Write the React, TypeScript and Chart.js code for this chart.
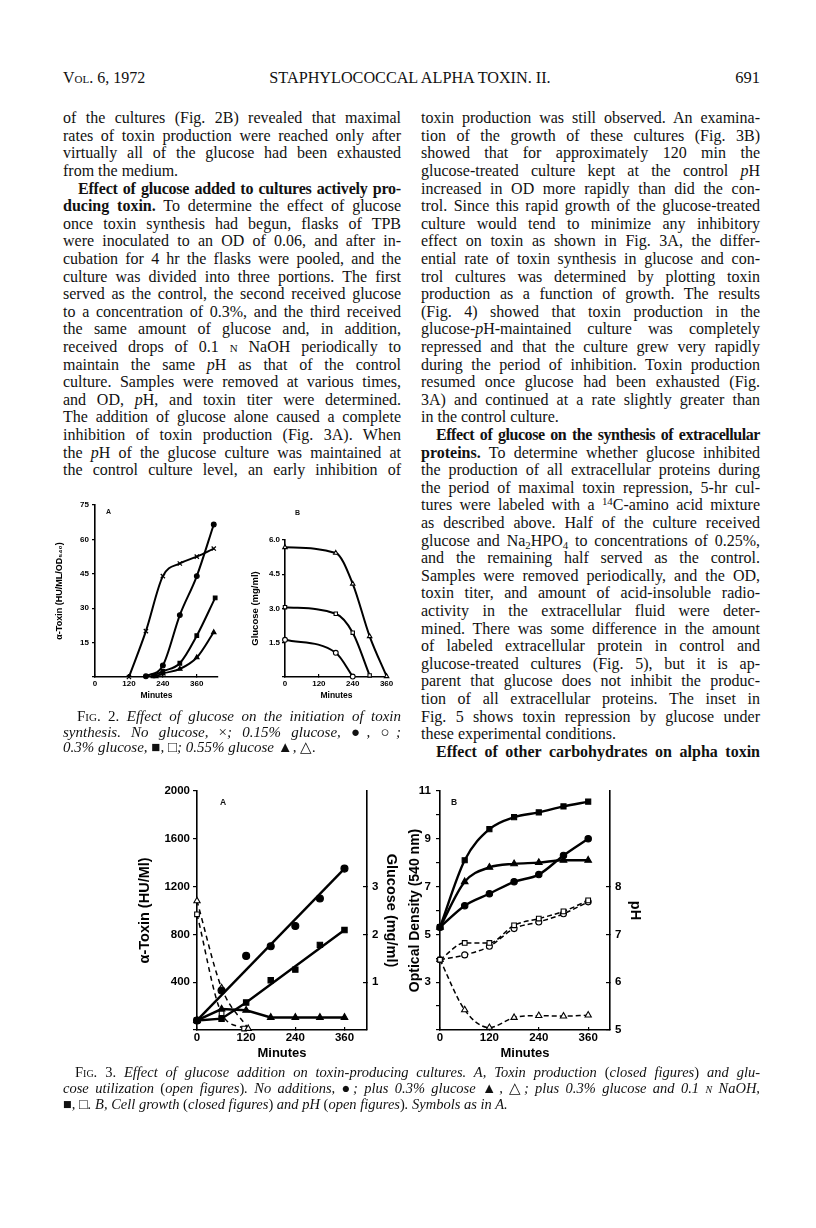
import React, { useEffect, useRef } from 'react';
import { Chart, registerables } from 'chart.js';

Chart.register(...registerables);

// ---------------- Fig. 2A : toxin (HU/ML/OD540) vs minutes ----------------
const fig2aNoGlucoseMin = [120, 180, 240, 300, 360, 420];
const fig2aNoGlucoseToxin = [0, 20, 44, 49.5, 52.5, 56];
const fig2aG015Min = [180, 240, 300, 360, 420];
const fig2aG015Toxin = [0.3, 5, 27, 44, 66.5];
const fig2aG03Min = [205, 240, 300, 360, 425];
const fig2aG03Toxin = [0.5, 2.5, 6, 18, 34.5];
const fig2aG055Min = [215, 240, 300, 360, 420];
const fig2aG055Toxin = [0.3, 1.5, 3.5, 8.5, 19.5];
const fig2aXTicks = [0, 120, 240, 360];
const fig2aYTicks = [0, 15, 30, 45, 60, 75];

// ---------------- Fig. 2B : glucose (mg/ml) vs minutes ----------------
const fig2bG055Min = [0, 180, 240, 300, 360];
const fig2bG055Glucose = [5.68, 5.43, 4.08, 1.78, 0.03];
const fig2bG03Min = [0, 180, 240, 300];
const fig2bG03Glucose = [3.06, 2.77, 1.94, 0.07];
const fig2bG015Min = [0, 180, 240];
const fig2bG015Glucose = [1.63, 1.06, 0.02];
const fig2bXTicks = [0, 120, 240, 360];
const fig2bYTicks = [0, 1.5, 3.0, 4.5, 6.0];

// ---------------- Fig. 3A : toxin (HU/ml) and glucose (mg/ml) ----------------
const fig3Minutes = [0, 60, 120, 180, 240, 300, 360];
const fig3aToxinNone = [80, 330, 620, 700, 870, 1100, 1350];
const fig3aToxinGlucose = [80, 175, 165, 105, 105, 105, 105];
const fig3aToxinNaOH = [80, 95, 230, 416, 505, 712, 836];
const fig3aGlcMinGlucose = [0, 60, 125];
const fig3aGlcGlucose = [2.7, 0.88, 0.03];
const fig3aGlcMinNaOH = [0, 60, 115];
const fig3aGlcNaOH = [2.42, 0.35, 0.03];
const fig3aXTicks = [0, 120, 240, 360];
const fig3aToxinTicks = [0, 400, 800, 1200, 1600, 2000];
const fig3aGlucoseTicks = [1, 2, 3];

// ---------------- Fig. 3B : optical density and pH ----------------
const fig3bOdNone = [5.3, 6.2, 6.7, 7.2, 7.5, 8.3, 9.0];
const fig3bOdGlucose = [5.3, 7.2, 7.8, 7.95, 8.0, 8.1, 8.1];
const fig3bOdNaOH = [5.3, 8.1, 9.4, 9.9, 10.1, 10.35, 10.55];
const fig3bPhNone = [6.47, 6.57, 6.75, 7.12, 7.26, 7.43, 7.68];
const fig3bPhGlucose = [6.47, 5.42, 5.05, 5.26, 5.3, 5.29, 5.31];
const fig3bPhNaOH = [6.47, 6.82, 6.82, 7.19, 7.33, 7.48, 7.71];
const fig3bXTicks = [0, 120, 240, 360];
const fig3bOdTicks = [1, 2, 3, 4, 5, 6, 7, 8, 9, 10, 11];
const fig3bPhTicks = [5, 6, 7, 8];

// ---------------- helpers ----------------
const pts = (xs: number[], ys: number[]) => xs.map((x, i) => ({ x, y: ys[i] }));
const pick = (xs: number[], ys: number[], idx: number[]) => idx.map((i) => ({ x: xs[i], y: ys[i] }));

const SANS = "'Liberation Sans', Arial, sans-serif";
const fnt = (size: number) => ({ family: SANS, size, weight: 'bold' as const, lineHeight: 1.2 });

function axis(o: any) {
  return {
    type: 'linear',
    position: o.position,
    min: o.min,
    max: o.max,
    afterBuildTicks: (s: any) => {
      s.ticks = o.ticks.map((v: number) => ({ value: v }));
    },
    afterFit: (s: any) => {
      if (o.position === 'bottom') s.height = o.size;
      else s.width = o.size;
    },
    ticks: {
      callback: (v: any) => (o.label ? o.label(Number(v)) : String(v)),
      font: fnt(o.fontSize),
      color: '#000',
      padding: o.pad,
      maxRotation: 0,
      minRotation: 0,
      autoSkip: false,
    },
    grid: {
      display: true,
      drawOnChartArea: false,
      drawTicks: true,
      tickLength: o.tl,
      color: '#000',
      lineWidth: 1.2,
    },
    border: { display: true, color: '#000', width: o.bw ?? 1.6 },
    title: o.title
      ? { display: true, text: o.title, font: fnt(o.titleSize), color: '#000', padding: o.titlePad }
      : { display: false },
  };
}

function series(data: any[], o: any) {
  return {
    data,
    yAxisID: o.yAxisID ?? 'y',
    borderColor: '#000',
    backgroundColor: '#000',
    borderWidth: o.lw ?? 2,
    borderDash: o.dash ?? [],
    showLine: o.showLine ?? true,
    cubicInterpolationMode: o.curve === false ? 'default' : 'monotone',
    tension: o.curve === false ? 0 : 0.4,
    pointStyle: o.style ?? 'circle',
    pointRadius: o.r ?? 0,
    pointBackgroundColor: o.open ? '#fff' : '#000',
    pointBorderColor: '#000',
    pointBorderWidth: o.pbw ?? 1.1,
    clip: false,
  };
}

function baseOptions(padding: any, scales: any) {
  return {
    type: 'line',
    options: {
      animation: false,
      responsive: false,
      maintainAspectRatio: false,
      devicePixelRatio: 1,
      events: [],
      layout: { padding },
      plugins: { legend: { display: false }, tooltip: { enabled: false }, title: { display: false } },
      scales,
    },
  };
}

// ---------------- chart configs ----------------
function fig2aConfig() {
  const cfg: any = baseOptions({ left: 0, top: 10, right: 7, bottom: 0 }, {
    x: axis({ position: 'bottom', min: 0, max: 435, ticks: fig2aXTicks, size: 33, tl: -3, pad: 5, fontSize: 8,
      title: 'Minutes', titleSize: 8.5, titlePad: { top: 0, bottom: 9 } }),
    y: axis({ position: 'left', min: 0, max: 75, ticks: fig2aYTicks, size: 45, tl: 3, pad: 3, fontSize: 8,
      label: (v: number) => (v === 0 ? '' : String(v)),
      title: 'α-Toxin (HU/ML/OD₅₄₀)', titleSize: 9, titlePad: { top: 4.5, bottom: 0 } }),
  });
  cfg.data = {
    datasets: [
      series(pts(fig2aNoGlucoseMin, fig2aNoGlucoseToxin), { style: 'crossRot', r: 3, pbw: 1.2 }),
      series(pts(fig2aG015Min, fig2aG015Toxin), { style: 'circle', r: 2.4 }),
      series(pts(fig2aG03Min, fig2aG03Toxin), { style: 'rect', r: 2.6 }),
      series(pts(fig2aG055Min, fig2aG055Toxin), { style: 'triangle', r: 2.6 }),
    ],
  };
  return cfg;
}

function fig2bConfig() {
  const cfg: any = baseOptions({ left: 0, top: 45, right: 17, bottom: 0 }, {
    x: axis({ position: 'bottom', min: 0, max: 365, ticks: fig2bXTicks, size: 33, tl: -3, pad: 5, fontSize: 8,
      title: 'Minutes', titleSize: 8.5, titlePad: { top: 0, bottom: 9 } }),
    y: axis({ position: 'left', min: 0, max: 6, ticks: fig2bYTicks, size: 40, tl: 3, pad: 2, fontSize: 8,
      label: (v: number) => (v === 0 ? '' : v.toFixed(1)),
      title: 'Glucose (mg/ml)', titleSize: 9.5, titlePad: { top: 4.3, bottom: 0 } }),
  });
  cfg.data = {
    datasets: [
      series(pts(fig2bG055Min, fig2bG055Glucose), { style: 'triangle', r: 2.6, open: true }),
      series(pts(fig2bG03Min, fig2bG03Glucose), { style: 'rect', r: 2.4, open: true }),
      series(pts(fig2bG015Min, fig2bG015Glucose), { style: 'circle', r: 2.4, open: true }),
    ],
  };
  return cfg;
}

function fig3aConfig() {
  const last = fig3Minutes.length - 1;
  const cfg: any = baseOptions({ left: 0, top: 15, right: 0, bottom: 0 }, {
    x: axis({ position: 'bottom', min: 0, max: 415, ticks: fig3aXTicks, size: 40, tl: -3, pad: 4, fontSize: 11.5,
      title: 'Minutes', titleSize: 13, titlePad: { top: 0, bottom: 9 } }),
    y: axis({ position: 'left', min: 0, max: 2000, ticks: fig3aToxinTicks, size: 67, tl: 4, pad: 3, fontSize: 11.5,
      label: (v: number) => (v === 0 ? '' : String(v)),
      title: 'α-Toxin (HU/Ml)', titleSize: 14.5, titlePad: { top: 6, bottom: 0 } }),
    y1: axis({ position: 'right', min: 0, max: 5, ticks: fig3aGlucoseTicks, size: 38, tl: -4, pad: 9, fontSize: 11.5,
      title: 'Glucose (mg/ml)', titleSize: 14.5, titlePad: { top: 5, bottom: 0 } }),
  });
  cfg.data = {
    datasets: [
      // markers
      series(pts(fig3Minutes, fig3aToxinNone), { showLine: false, style: 'circle', r: 3.5 }),
      series(pts(fig3Minutes, fig3aToxinNaOH), { showLine: false, style: 'rect', r: 3.8 }),
      series(pts(fig3Minutes, fig3aToxinGlucose), { style: 'triangle', r: 3.8, curve: false, lw: 2.4 }),
      series(pts(fig3aGlcMinGlucose, fig3aGlcGlucose), { yAxisID: 'y1', style: 'triangle', r: 3.6, open: true, dash: [5, 4], lw: 1.5 }),
      series(pts(fig3aGlcMinNaOH, fig3aGlcNaOH), { yAxisID: 'y1', style: 'rect', r: 3.3, open: true, dash: [5, 4], lw: 1.5 }),
      // straight lines through data points
      series(pick(fig3Minutes, fig3aToxinNone, [0, last]), { curve: false, lw: 2.4 }),
      series(pick(fig3Minutes, fig3aToxinNaOH, [0, 1, 2, last]), { curve: false, lw: 2.4 }),
    ],
  };
  return cfg;
}

function fig3bConfig() {
  const cfg: any = baseOptions({ left: 0, top: 15, right: 0, bottom: 0 }, {
    x: axis({ position: 'bottom', min: 0, max: 413, ticks: fig3bXTicks, size: 40, tl: -3, pad: 4, fontSize: 11.5,
      title: 'Minutes', titleSize: 13, titlePad: { top: 0, bottom: 9 } }),
    y: axis({ position: 'left', min: 1, max: 11, ticks: fig3bOdTicks, size: 35, tl: 4, pad: 5, fontSize: 11.5,
      label: (v: number) => (v >= 3 && v % 2 === 1 ? String(v) : ''),
      title: 'Optical Density (540 nm)', titleSize: 14, titlePad: { top: 2, bottom: 0 } }),
    y1: axis({ position: 'right', min: 5, max: 10, ticks: fig3bPhTicks, size: 45, tl: -4, pad: 9, fontSize: 11.5,
      title: 'pH', titleSize: 14.5, titlePad: { top: 11, bottom: 0 } }),
  });
  cfg.data = {
    datasets: [
      series(pts(fig3Minutes, fig3bOdNaOH), { style: 'rect', r: 3.6, lw: 2.4 }),
      series(pts(fig3Minutes, fig3bOdGlucose), { style: 'triangle', r: 3.8, lw: 2.4 }),
      series(pts(fig3Minutes, fig3bOdNone), { style: 'circle', r: 3.2, lw: 2.4 }),
      series(pts(fig3Minutes, fig3bPhNaOH), { yAxisID: 'y1', style: 'rect', r: 3.3, open: true, dash: [5, 3], lw: 1.5 }),
      series(pts(fig3Minutes, fig3bPhNone), { yAxisID: 'y1', style: 'circle', r: 3, open: true, dash: [5, 3], lw: 1.5 }),
      series(pts(fig3Minutes, fig3bPhGlucose), { yAxisID: 'y1', style: 'triangle', r: 3.6, open: true, dash: [5, 3], lw: 1.5 }),
    ],
  };
  return cfg;
}

function ChartCanvas({ left, top, width, height, make }: any) {
  const ref = useRef<HTMLCanvasElement>(null);
  useEffect(() => {
    const chart = new Chart(ref.current as HTMLCanvasElement, make());
    return () => chart.destroy();
  }, []);
  return (
    <canvas
      ref={ref}
      width={width}
      height={height}
      style={{ position: 'absolute', left, top, width, height }}
    />
  );
}

// ---------------- text helpers ----------------
const SC = ({ children }: any) => <span style={{ fontVariant: 'small-caps' }}>{children}</span>;
const Bd = ({ children, ls = 0 }: any) => <span style={{ fontWeight: 'bold', letterSpacing: ls }}>{children}</span>;
const It = ({ children }: any) => <span style={{ fontStyle: 'italic' }}>{children}</span>;
const Rm = ({ children }: any) => <span style={{ fontStyle: 'normal' }}>{children}</span>;
const Sub = ({ children }: any) => (
  <span style={{ fontSize: '0.68em', verticalAlign: '-0.25em', lineHeight: 0 }}>{children}</span>
);
const Sup = ({ children }: any) => (
  <span style={{ fontSize: '0.68em', verticalAlign: '0.45em', lineHeight: 0 }}>{children}</span>
);
const pH = (
  <>
    <It>p</It>H
  </>
);

function TextLine({ x, y, w, h, size, j, indent = 0, italic = false, children }: any) {
  return (
    <div
      style={{
        position: 'absolute',
        left: x + indent,
        top: y,
        width: w - indent,
        height: h,
        lineHeight: `${h}px`,
        fontSize: size,
        whiteSpace: 'nowrap',
        textAlign: j ? 'justify' : 'left',
        textAlignLast: j ? 'justify' : 'left',
        fontStyle: italic ? 'italic' : 'normal',
      }}
    >
      {children}
    </div>
  );
}

type L = [React.ReactNode, boolean, number?];

const leftLines: L[] = [
  ['of the cultures (Fig. 2B) revealed that maximal', true],
  ['rates of toxin production were reached only after', true],
  ['virtually all of the glucose had been exhausted', true],
  ['from the medium.', false],
  [<><Bd ls={-0.2}>Effect of glucose added to cultures actively pro-</Bd></>, true, 15],
  [<><Bd>ducing toxin.</Bd> To determine the effect of glucose</>, true],
  ['once toxin synthesis had begun, flasks of TPB', true],
  ['were inoculated to an OD of 0.06, and after in-', true],
  ['cubation for 4 hr the flasks were pooled, and the', true],
  ['culture was divided into three portions. The first', true],
  ['served as the control, the second received glucose', true],
  ['to a concentration of 0.3%, and the third received', true],
  ['the same amount of glucose and, in addition,', true],
  [<>received drops of 0.1 <SC>n</SC> NaOH periodically to</>, true],
  [<>maintain the same {pH} as that of the control</>, true],
  ['culture. Samples were removed at various times,', true],
  [<>and OD, {pH}, and toxin titer were determined.</>, true],
  ['The addition of glucose alone caused a complete', true],
  ['inhibition of toxin production (Fig. 3A). When', true],
  [<>the {pH} of the glucose culture was maintained at</>, true],
  ['the control culture level, an early inhibition of', true],
];

const rightLines: L[] = [
  ['toxin production was still observed. An examina-', true],
  ['tion of the growth of these cultures (Fig. 3B)', true],
  ['showed that for approximately 120 min the', true],
  [<>glucose-treated culture kept at the control {pH}</>, true],
  ['increased in OD more rapidly than did the con-', true],
  ['trol. Since this rapid growth of the glucose-treated', true],
  ['culture would tend to minimize any inhibitory', true],
  ['effect on toxin as shown in Fig. 3A, the differ-', true],
  ['ential rate of toxin synthesis in glucose and con-', true],
  ['trol cultures was determined by plotting toxin', true],
  ['production as a function of growth. The results', true],
  ['(Fig. 4) showed that toxin production in the', true],
  [<>glucose-{pH}-maintained culture was completely</>, true],
  ['repressed and that the culture grew very rapidly', true],
  ['during the period of inhibition. Toxin production', true],
  ['resumed once glucose had been exhausted (Fig.', true],
  ['3A) and continued at a rate slightly greater than', true],
  ['in the control culture.', false],
  [<><Bd ls={-0.45}>Effect of glucose on the synthesis of extracellular</Bd></>, true, 15],
  [<><Bd>proteins.</Bd> To determine whether glucose inhibited</>, true],
  ['the production of all extracellular proteins during', true],
  ['the period of maximal toxin repression, 5-hr cul-', true],
  [<>tures were labeled with a <Sup>14</Sup>C-amino acid mixture</>, true],
  ['as described above. Half of the culture received', true],
  [<>glucose and Na<Sub>2</Sub>HPO<Sub>4</Sub> to concentrations of 0.25%,</>, true],
  ['and the remaining half served as the control.', true],
  ['Samples were removed periodically, and the OD,', true],
  ['toxin titer, and amount of acid-insoluble radio-', true],
  ['activity in the extracellular fluid were deter-', true],
  ['mined. There was some difference in the amount', true],
  ['of labeled extracellular protein in control and', true],
  ['glucose-treated cultures (Fig. 5), but it is ap-', true],
  ['parent that glucose does not inhibit the produc-', true],
  ['tion of all extracellular proteins. The inset in', true],
  ['Fig. 5 shows toxin repression by glucose under', true],
  ['these experimental conditions.', false],
  [<><Bd>Effect of other carbohydrates on alpha toxin</Bd></>, true, 15],
];

const fig2Caption: L[] = [
  [<><Rm><SC>Fig. 2.</SC></Rm> Effect of glucose on the initiation of toxin</>, true, 14],
  [<>synthesis. No glucose, <Rm>×</Rm>; 0.15% glucose, <Rm>●</Rm>, <Rm>○</Rm>;</>, true],
  [<>0.3% glucose, <Rm>■</Rm>, <Rm>□</Rm>; 0.55% glucose <Rm>▲</Rm>, <Rm>△</Rm>.</>, false],
];

const fig3Caption: L[] = [
  [<><Rm><SC>Fig. 3.</SC></Rm> Effect of glucose addition on toxin-producing cultures. A, Toxin production <Rm>(</Rm>closed figures<Rm>)</Rm> and glu-</>, true, 12],
  [<>cose utilization <Rm>(</Rm>open figures<Rm>)</Rm>. No additions, <Rm>●</Rm>; plus 0.3% glucose <Rm>▲</Rm>, <Rm>△</Rm>; plus 0.3% glucose and 0.1 <SC>n</SC> NaOH,</>, true],
  [<><Rm>■</Rm>, <Rm>□</Rm>. B, Cell growth <Rm>(</Rm>closed figures<Rm>)</Rm> and pH <Rm>(</Rm>open figures<Rm>)</Rm>. Symbols as in A.</>, false],
];

const BODY_PITCH = 17.6;
const BODY_TOP = 109.2;

export default function App() {
  return (
    <div
      style={{
        position: 'absolute',
        left: 0,
        top: 0,
        width: 816,
        height: 1228,
        background: '#fff',
        color: '#111',
        fontFamily: "'Liberation Serif', 'Times New Roman', serif",
        overflow: 'hidden',
      }}
    >
      {/* running head */}
      <div style={{ position: 'absolute', left: 63, top: 69, fontSize: 16, lineHeight: '18px' }}>
        <SC>Vol.</SC> 6, 1972
      </div>
      <div style={{ position: 'absolute', left: 210, width: 400, top: 69, fontSize: 16.2, lineHeight: '18px', textAlign: 'center' }}>
        STAPHYLOCOCCAL ALPHA TOXIN. II.
      </div>
      <div style={{ position: 'absolute', left: 660, width: 100, top: 69, fontSize: 16.5, lineHeight: '18px', textAlign: 'right' }}>
        691
      </div>

      {leftLines.map(([t, j, ind], i) => (
        <TextLine key={'l' + i} x={63} y={BODY_TOP + i * BODY_PITCH} w={338} h={BODY_PITCH} size={16} j={j} indent={ind || 0}>
          {t}
        </TextLine>
      ))}
      {rightLines.map(([t, j, ind], i) => (
        <TextLine key={'r' + i} x={421} y={BODY_TOP + i * BODY_PITCH} w={339} h={BODY_PITCH} size={16} j={j} indent={ind || 0}>
          {t}
        </TextLine>
      ))}

      {/* Fig. 2 */}
      <ChartCanvas left={50} top={495} width={175} height={215} make={fig2aConfig} />
      <ChartCanvas left={245} top={495} width={160} height={215} make={fig2bConfig} />
      <div style={{ position: 'absolute', left: 106, top: 508, fontFamily: SANS, fontSize: 7, fontWeight: 'bold' }}>A</div>
      <div style={{ position: 'absolute', left: 295, top: 509, fontFamily: SANS, fontSize: 7, fontWeight: 'bold' }}>B</div>
      {fig2Caption.map(([t, j, ind], i) => (
        <TextLine key={'c2' + i} x={63} y={709.2 + i * 15.5} w={338} h={15.5} size={15} j={j} indent={ind || 0} italic>
          {t}
        </TextLine>
      ))}

      {/* Fig. 3 */}
      <ChartCanvas left={130} top={775} width={275} height={295} make={fig3aConfig} />
      <ChartCanvas left={405} top={775} width={250} height={295} make={fig3bConfig} />
      <div style={{ position: 'absolute', left: 220, top: 797, fontFamily: SANS, fontSize: 8.5, fontWeight: 'bold' }}>A</div>
      <div style={{ position: 'absolute', left: 451, top: 797, fontFamily: SANS, fontSize: 8.5, fontWeight: 'bold' }}>B</div>
      {fig3Caption.map(([t, j, ind], i) => (
        <TextLine key={'c3' + i} x={63} y={1064 + i * 16} w={697} h={16} size={14.5} j={j} indent={ind || 0} italic>
          {t}
        </TextLine>
      ))}
    </div>
  );
}
